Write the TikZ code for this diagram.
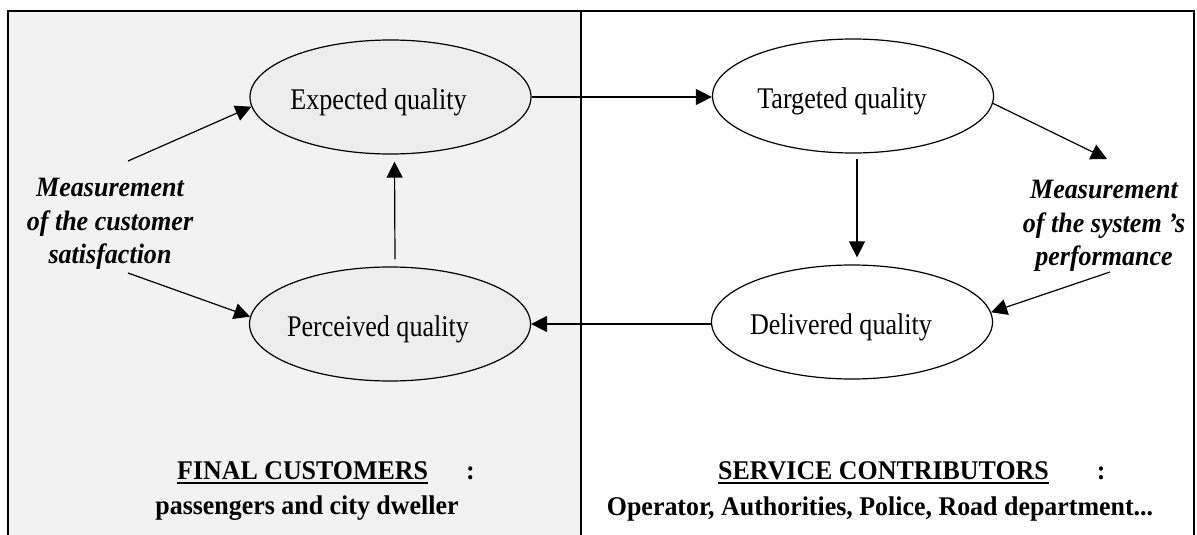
\documentclass[tikz,border=0pt]{standalone}
\usepackage{fontspec}
\setmainfont{Liberation Serif}
\newfontfamily\qualfont{Liberation Serif}[FakeStretch=0.87]
\newfontfamily\measfont{Liberation Serif}[FakeStretch=0.93]
\newfontfamily\partyfont{Liberation Serif}[FakeStretch=0.96]
\usetikzlibrary{shapes.geometric,arrows.meta}
% thick underline for the party headings
\newcommand\partyline[1]{\setbox0\hbox{#1}\rlap{\rule[-5pt]{\wd0}{2.2pt}}\box0}
\begin{document}
\begin{tikzpicture}[x=1pt,y=-1pt,
  quality/.style={ellipse,draw,line width=1.2pt,minimum width=281pt,minimum height=114pt,
    inner sep=0pt,text height=24pt,text depth=0pt,font=\qualfont\fontsize{30}{34}\selectfont},
  leftq/.style={quality,fill=black!7},
  rightq/.style={quality,fill=white},
  arr/.style={line width=1.2pt,-{Triangle[length=16pt,width=16pt]}},
  meas/.style={align=center,inner sep=0pt,font=\measfont\fontsize{28}{33.5}\selectfont\bfseries\itshape},
  party/.style={inner sep=0pt,font=\partyfont\fontsize{27}{30}\selectfont\bfseries},
  frame/.style={line width=1.7pt}]
\useasboundingbox (0,0) rectangle (1197,535);
% customer side panel
\fill[black!5] (8,11) rectangle (581,535);
\draw[frame] (8,535) -- (8,11) -- (1194,11) -- (1194,535);
\draw[frame] (581,11) -- (581,535);

% quality ellipses
\node[leftq]  (exp) at (390.5,97) {\hspace*{-24pt}Expected quality};
\node[rightq] (tgt) at (853,96)   {\hspace*{-22pt}Targeted quality};
\node[leftq]  (per) at (390,324)  {\hspace*{-24pt}Perceived quality};
\node[rightq] (del) at (852,322)  {\hspace*{-22pt}Delivered quality};

% measurement labels
\node[meas] (mcust) at (110,224) {Measurement\\of the customer\\satisfaction};
\node[meas] (msys)  at (1104,226) {Measurement\\of the system ’s\\performance};

% party labels
\node[party,anchor=base west] (cust) at (177,479) {\partyline{FINAL CUSTOMERS}\hspace{38pt}:};
\node[party,anchor=base] (custx) at (307,514) {passengers and city dweller};
\node[party,anchor=base west] (contr) at (718,479) {\partyline{SERVICE CONTRIBUTORS}\hspace{48pt}:};
\node[party,anchor=base] (contrx) at (880,515) {Operator, Authorities, Police, Road department...};

% free ends of the measurement arrows
\coordinate (c1) at (128,161);
\coordinate (c2) at (128,273);
\coordinate (s1) at (1107,159);
\coordinate (s2) at (1110,272);

% quality loop
\draw[arr] (exp.east) -- (tgt.west |- exp.east);
\draw[arr] ([shift={(4,5)}]tgt.south) -- ([shift={(5,-7)}]del.north);
\draw[arr] (per.east -| del.west) -- (per.east);
\draw[arr] ([shift={(5,-7)}]per.north) -- ([shift={(4,7)}]exp.south);

% measurement arrows
\draw[arr] (c1) -- (exp.184);
\draw[arr] (c2) -- (per.177);
\draw[arr] (tgt.-3) -- (s1);
\draw[arr] (s2) -- (del.4);
\end{tikzpicture}
\end{document}
